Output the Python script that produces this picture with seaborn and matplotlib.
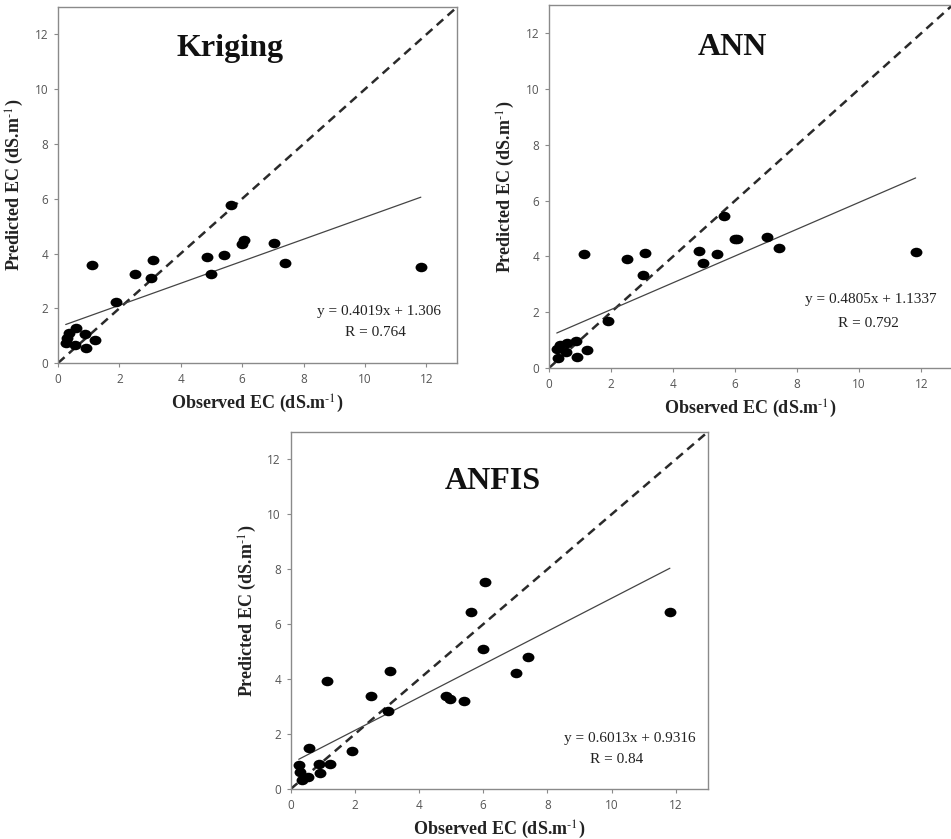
import matplotlib
matplotlib.use("Agg")
import matplotlib.pyplot as plt
from matplotlib.markers import MarkerStyle
from matplotlib.transforms import Affine2D
import seaborn as sns
import pandas as pd
import numpy as np

# ---- data ----
observed = [0.25, 0.30, 0.35, 0.55, 0.57, 0.88, 0.90, 1.22, 1.12, 1.90, 2.50,
            3.03, 3.10, 4.85, 4.97, 5.40, 5.63, 6.00, 6.05, 7.03, 7.40, 11.82]
kriging_pred = [0.74, 0.90, 1.09, 0.66, 1.27, 1.05, 0.54, 0.84, 3.57, 2.23, 3.24,
                3.11, 3.77, 3.88, 3.24, 3.94, 5.78, 4.35, 4.50, 4.38, 3.65, 3.50]
ann_pred = [0.69, 0.37, 0.81, 0.57, 0.88, 0.97, 0.40, 0.63, 4.10, 1.68, 3.91,
            3.33, 4.14, 4.20, 3.78, 4.10, 5.44, 4.62, 4.64, 4.68, 4.31, 4.16]
anfis_pred = [0.87, 0.63, 0.33, 0.42, 1.49, 0.90, 0.59, 0.91, 3.94, 1.40, 3.39,
              2.84, 4.31, 3.39, 3.26, 3.22, 6.46, 5.11, 7.54, 4.24, 4.79, 6.46]
titles = ["Kriging", "ANN", "ANFIS"]
slopes = [0.4019, 0.4805, 0.6013]
intercepts = [1.306, 1.1337, 0.9316]
eq_texts = ["y = 0.4019x + 1.306", "y = 0.4805x + 1.1337", "y = 0.6013x + 0.9316"]
r_texts = ["R = 0.764", "R = 0.792", "R = 0.84"]
ticks = [0, 2, 4, 6, 8, 10, 12]

preds = [kriging_pred, ann_pred, anfis_pred]

sns.set_style("white")
plt.rcParams["mathtext.fontset"] = "stix"

fig = plt.figure(figsize=(9.51, 8.39), dpi=100)

# axes rectangles in figure fractions
rects = [
    [0.061, 0.5673, 0.4196, 0.4243],
    [0.5773, 0.5614, 0.4240, 0.4322],
    [0.3057, 0.0596, 0.4385, 0.4255],
]
title_pos = [(5.6, 11.5), (5.9, 11.5), (6.3, 11.2)]
eq_pos = [(10.45, 1.88), (10.39, 2.44), (10.58, 1.85)]
r_pos = [(10.35, 1.10), (10.30, 1.60), (10.16, 1.09)]

marker = MarkerStyle("o", transform=Affine2D().scale(1.25, 1.0))
serif = "Liberation Serif"
tick_color = "#555555"
spine_color = "#8a8a8a"

xlabel = r"Observed EC (dS.m$^{\text{-1}}$)"
ylabel = r"Predicted EC (dS.m$^{\text{-1}}$)"

for i in range(3):
    ax = fig.add_axes(rects[i])
    df = pd.DataFrame({"obs": observed, "pred": preds[i]})
    # 1:1 line
    ax.plot([0, 13], [0, 13], linestyle=(0, (3.5, 2.3)), color="#2a2a2a",
            linewidth=1.8, zorder=1)
    # regression line
    xs = np.array([min(observed), max(observed)])
    fit = pd.DataFrame({"x": xs, "y": slopes[i] * xs + intercepts[i]})
    sns.lineplot(data=fit, x="x", y="y", ax=ax, color="#444444",
                 linewidth=0.9, zorder=2)
    sns.scatterplot(data=df, x="obs", y="pred", ax=ax, marker=marker, s=47,
                    color="black", edgecolor="black", linewidth=0, zorder=3)
    ax.set_xlim(0, 13)
    ax.set_ylim(0, 13)
    ax.set_xticks(ticks)
    ax.set_yticks(ticks)
    ax.set_xticklabels([str(t) for t in ticks], fontfamily="Open Sans",
                       fontsize=8.5, color=tick_color)
    ax.set_yticklabels([str(t) for t in ticks], fontfamily="Open Sans",
                       fontsize=8.5, color=tick_color)
    ax.tick_params(axis="both", direction="out", length=3, width=0.8,
                   color=spine_color, pad=4, bottom=True, left=True)
    for sp in ax.spines.values():
        sp.set_visible(True)
        sp.set_color(spine_color)
        sp.set_linewidth(1.0)
    ax.set_xlabel(xlabel, fontfamily=serif, fontweight="bold", fontsize=13,
                  color="#222222", labelpad=5)
    ax.set_ylabel(ylabel, fontfamily=serif, fontweight="bold", fontsize=13,
                  color="#222222", labelpad=6)
    ax.text(*title_pos[i], titles[i], ha="center", va="center",
            fontfamily=serif, fontweight="bold", fontsize=23, color="#111111")
    ax.text(*eq_pos[i], eq_texts[i], ha="center", va="center",
            fontfamily=serif, fontsize=11, color="#222222")
    ax.text(*r_pos[i], r_texts[i], ha="center", va="center",
            fontfamily=serif, fontsize=11, color="#222222")

fig.savefig("out.png", dpi=100)
